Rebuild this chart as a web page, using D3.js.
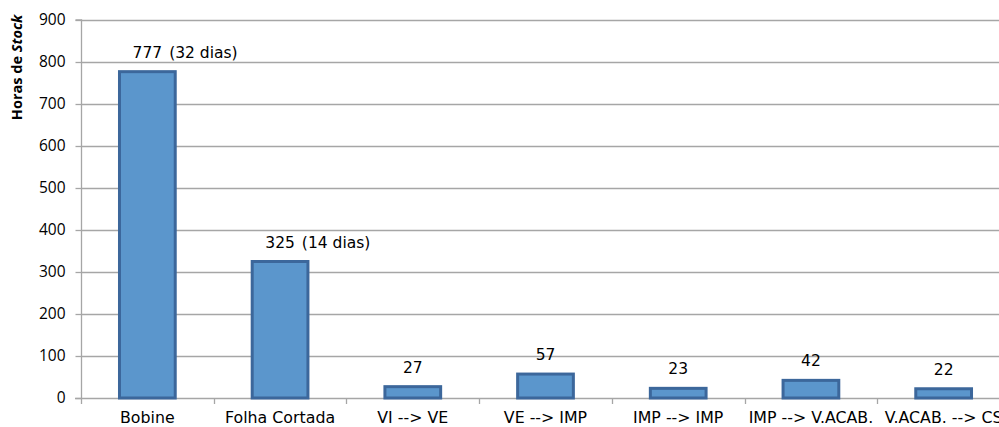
<!DOCTYPE html>
<html>
<head>
<meta charset="utf-8">
<script src="https://cdn.jsdelivr.net/npm/d3@7"></script>
<style>
  html, body { margin: 0; padding: 0; background: #fff; overflow: hidden; }
  svg { display: block; }
</style>
</head>
<body>
<svg id="chart" width="999" height="427"></svg>
<script>
// Stock hours per stage of the process
const categories = ["Bobine", "Folha Cortada", "VI --> VE", "VE --> IMP", "IMP --> IMP", "IMP --> V.ACAB.", "V.ACAB. --> CS"];
const values = [777, 325, 27, 57, 23, 42, 22];
const labelSuffixes = ["(32 dias)", "(14 dias)", "", "", "", "", ""];
const yTicks = [0, 100, 200, 300, 400, 500, 600, 700, 800, 900];

const svg = d3.select("#chart");
const margin = { left: 81, top: 20, bottom: 398 };
const plotRight = 1010; // plot area runs past the right edge of the page

const x = d3.scaleBand()
  .domain(categories)
  .range([margin.left, plotRight])
  .paddingInner(0.58)
  .paddingOuter(0.29);

const y = d3.scaleLinear()
  .domain([0, 900])
  .range([margin.bottom, margin.top]);

const gridColor = "#a6a6a6";

// horizontal gridlines
svg.append("g")
  .selectAll("line")
  .data(yTicks.filter(d => d > 0))
  .join("line")
  .attr("x1", margin.left)
  .attr("x2", plotRight)
  .attr("y1", d => Math.round(y(d)) + 0.5)
  .attr("y2", d => Math.round(y(d)) + 0.5)
  .attr("stroke", gridColor)
  .attr("stroke-width", 1.3);

// y axis
const yAxis = svg.append("g")
  .attr("transform", `translate(${margin.left + 0.5},0)`)
  .call(d3.axisLeft(y).tickValues(yTicks).tickSize(6).tickPadding(10).tickFormat(d3.format("d")));
yAxis.select(".domain").attr("stroke", gridColor).attr("stroke-width", 1.3).attr("d", `M-6,${y(900)}H0V${y(0)}`);
yAxis.selectAll(".tick line").attr("stroke", gridColor).attr("stroke-width", 1.3);
yAxis.selectAll(".tick text")
  .attr("fill", "#000")
  .style("font-family", "'Open Sans', 'Liberation Sans', sans-serif")
  .style("font-size", "15.5px");

// x axis baseline and category separators
const step = x.step();
const xAxisG = svg.append("g");
xAxisG.append("line")
  .attr("x1", margin.left - 6).attr("x2", plotRight)
  .attr("y1", Math.round(y(0)) + 0.5).attr("y2", Math.round(y(0)) + 0.5)
  .attr("stroke", gridColor).attr("stroke-width", 1.3);
xAxisG.selectAll("line.sep")
  .data(d3.range(categories.length + 1))
  .join("line")
  .attr("class", "sep")
  .attr("x1", i => Math.round(margin.left + i * step) + 0.5)
  .attr("x2", i => Math.round(margin.left + i * step) + 0.5)
  .attr("y1", y(0))
  .attr("y2", y(0) + 6)
  .attr("stroke", gridColor).attr("stroke-width", 1.3);

xAxisG.selectAll("text.cat")
  .data(categories)
  .join("text")
  .attr("class", "cat")
  .attr("x", d => x(d) + x.bandwidth() / 2)
  .attr("y", 423)
  .attr("text-anchor", "middle")
  .style("font-family", "'DejaVu Sans', sans-serif")
  .style("font-size", "15.8px")
  .attr("fill", "#000")
  .text(d => d);

// bars
svg.append("g")
  .selectAll("rect")
  .data(categories)
  .join("rect")
  .attr("x", d => x(d))
  .attr("y", (d, i) => y(values[i]))
  .attr("width", x.bandwidth())
  .attr("height", (d, i) => y(0) - y(values[i]))
  .attr("fill", "#5b96cc")
  .attr("stroke", "#3c679b")
  .attr("stroke-width", 3);

// value labels: number centred over the bar, extra note to its right
const labels = svg.append("g");
categories.forEach((c, i) => {
  const cx = x(c) + x.bandwidth() / 2;
  const ly = y(values[i]) - 14;
  const num = labels.append("text")
    .attr("x", cx)
    .attr("y", ly)
    .attr("text-anchor", "middle")
    .style("font-family", "'DejaVu Sans', sans-serif")
    .style("font-size", "15.5px")
    .attr("fill", "#000")
    .text(values[i]);
  if (labelSuffixes[i]) {
    const w = num.node().getComputedTextLength();
    labels.append("text")
      .attr("x", cx + w / 2 + 7)
      .attr("y", ly)
      .style("font-family", "'DejaVu Sans', sans-serif")
      .style("font-size", "15.5px")
      .attr("fill", "#000")
      .text(labelSuffixes[i]);
  }
});

// y axis title
const title = svg.append("text")
  .attr("transform", `translate(22,${(20 + 115) / 2}) rotate(-90)`)
  .attr("text-anchor", "middle")
  .style("font-family", "'Open Sans', 'Liberation Sans', sans-serif")
  .style("font-size", "14.5px")
  .style("font-weight", "bold")
  .attr("fill", "#000");
title.append("tspan").text("Horas de ");
title.append("tspan").style("font-style", "italic").text("Stock");
</script>
</body>
</html>
